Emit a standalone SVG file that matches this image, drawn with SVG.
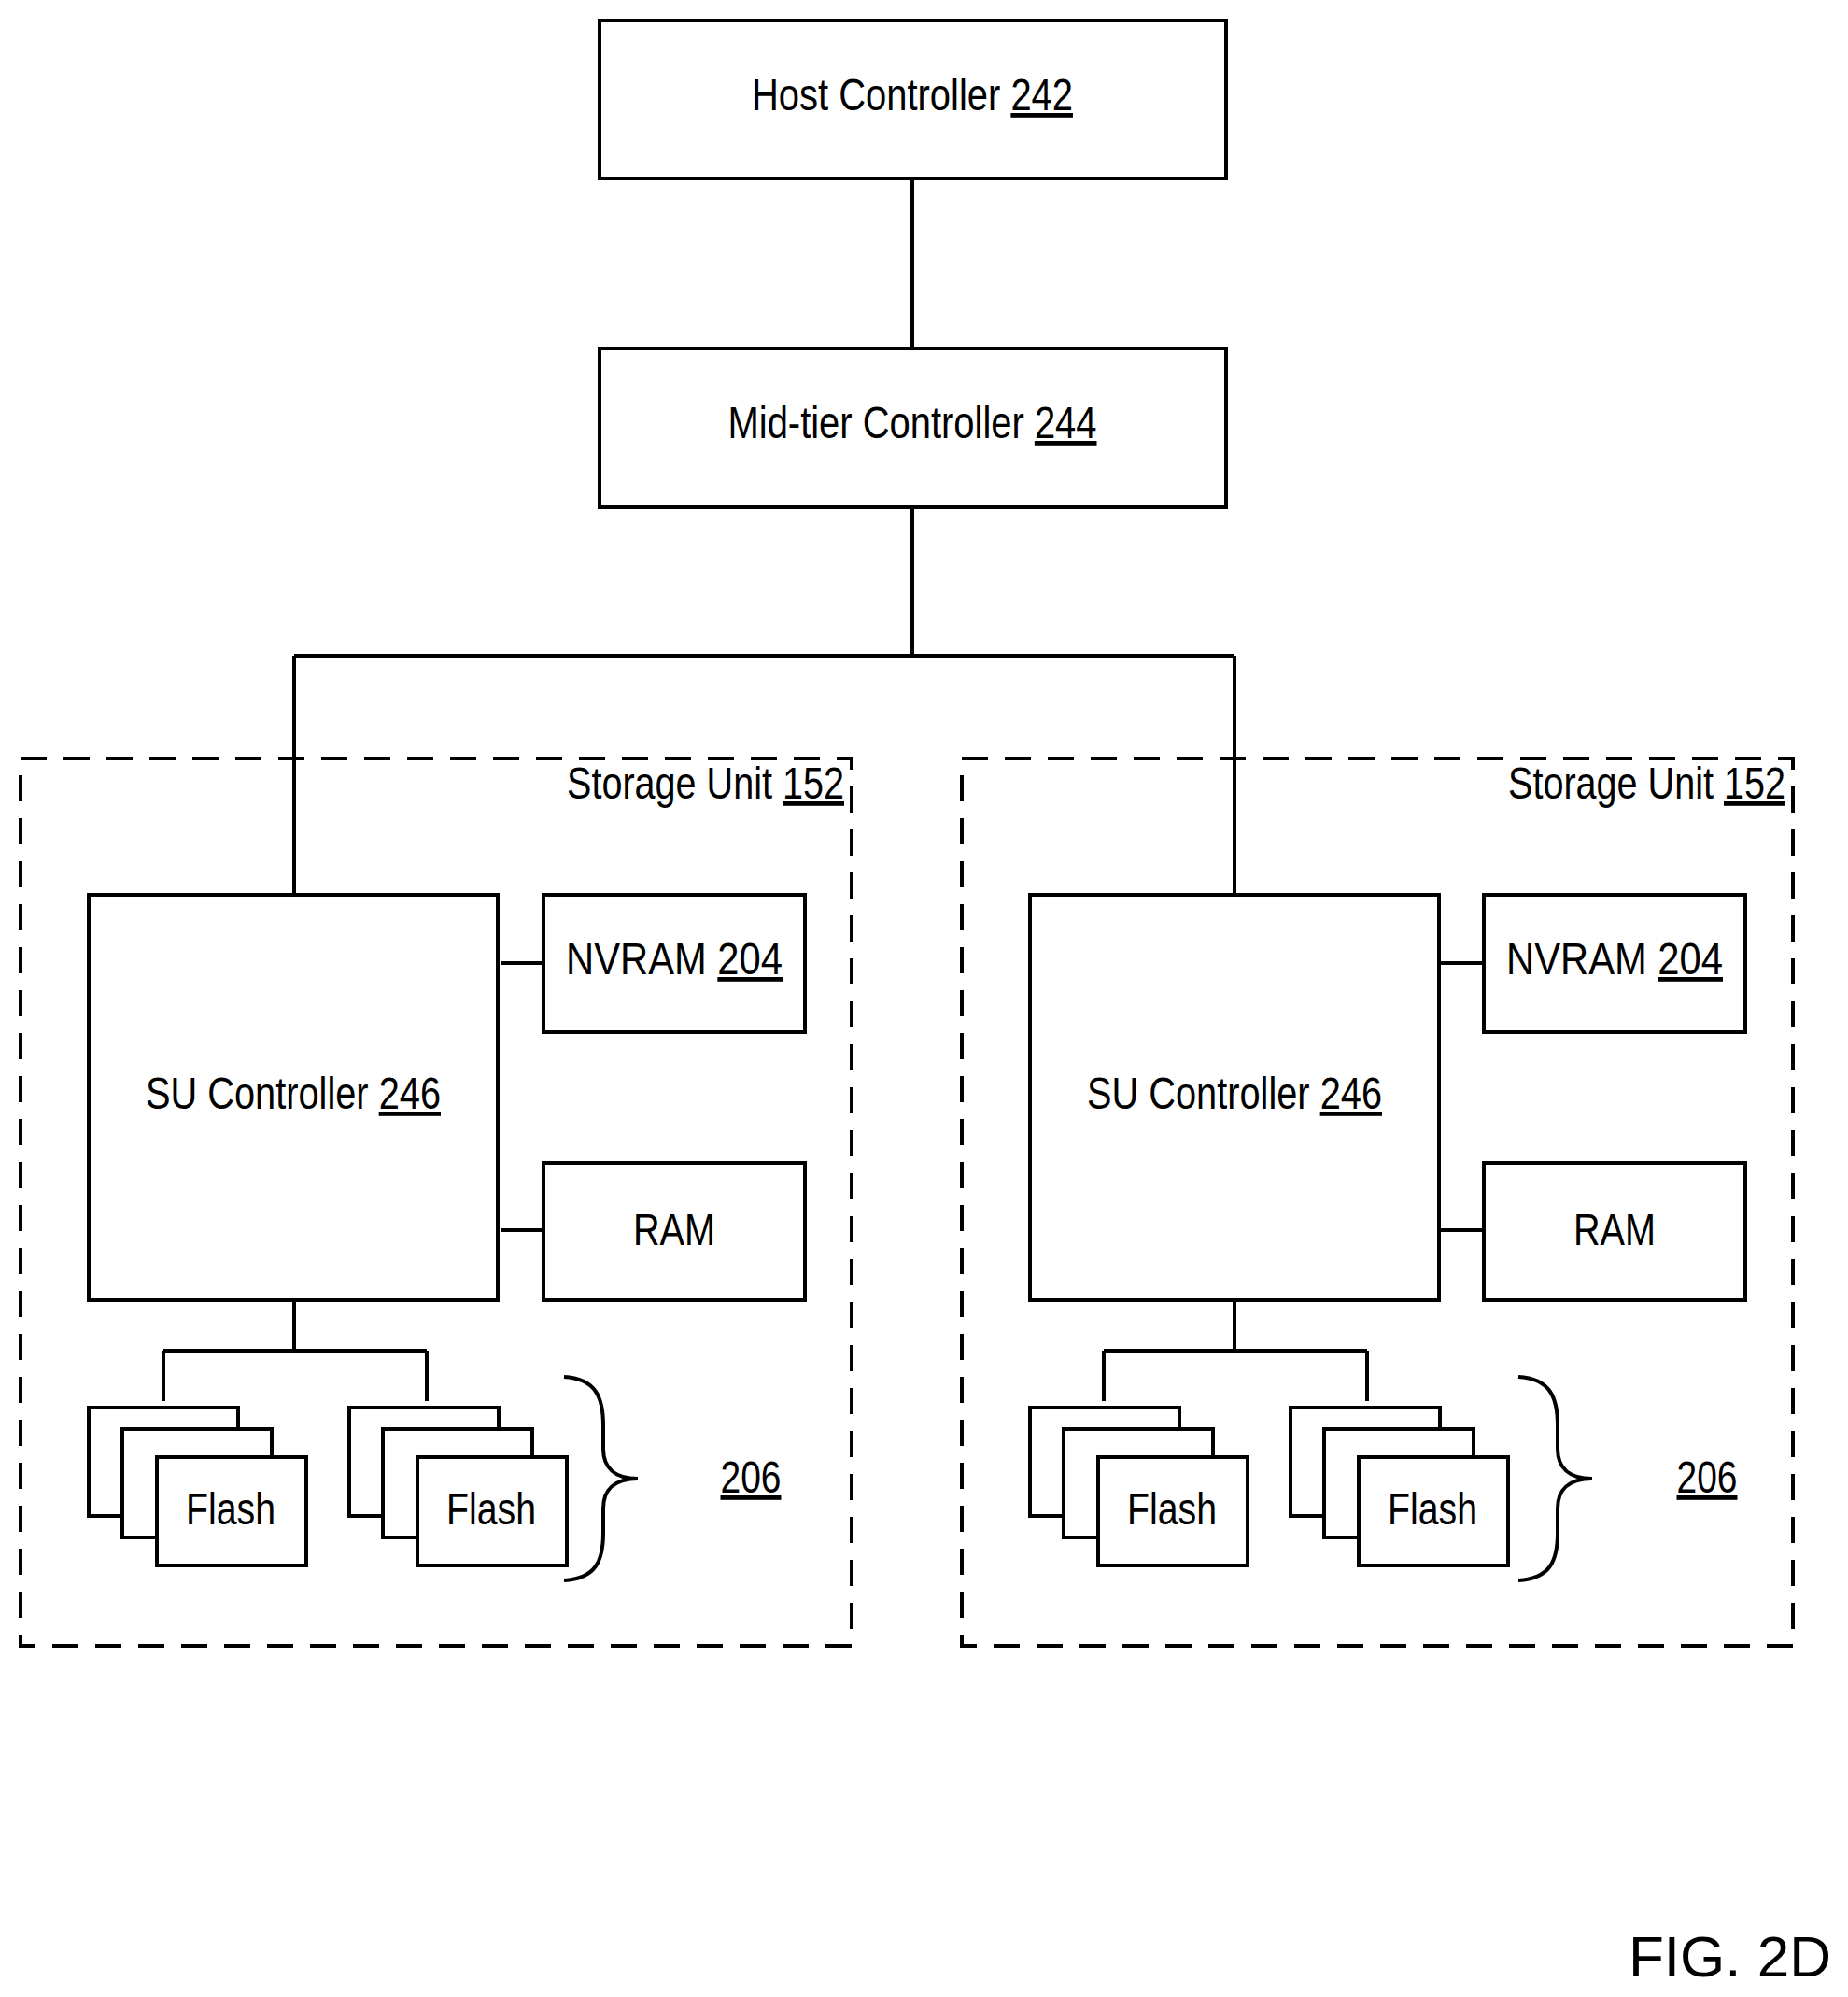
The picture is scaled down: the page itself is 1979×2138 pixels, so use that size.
<svg xmlns="http://www.w3.org/2000/svg" width="1979" height="2138" viewBox="0 0 1979 2138">
<style>
.b{fill:#fff;stroke:#000;stroke-width:4}
.d{fill:none;stroke:#000;stroke-width:4;stroke-dasharray:28,18}
.l{fill:none;stroke:#000;stroke-width:4}
text{font-family:"Liberation Sans",Arial,sans-serif;font-size:48px;fill:#000}
.m{text-anchor:middle}
</style>
<rect width="1979" height="2138" fill="#fff"/>
<g id="connectors">
<path class="l" d="M977 191V373M977 543V702M315 702H1322M315 702V956M1322 702V956"/>
<path class="l" d="M536 1031H582M536 1317H582M315 1392V1446M175 1446H457M175 1446V1500M457 1446V1500"/>
<path class="l" d="M1543 1031H1589M1543 1317H1589M1322 1392V1446M1182 1446H1464M1182 1446V1500M1464 1446V1500"/>
</g>
<g id="host"><rect class="b" x="642" y="22" width="671" height="169"/><text class="m" x="977" y="118" textLength="344" lengthAdjust="spacingAndGlyphs">Host Controller <tspan text-decoration="underline">242</tspan></text></g>
<g id="mid"><rect class="b" x="642" y="373" width="671" height="170"/><text class="m" x="977" y="469" textLength="395" lengthAdjust="spacingAndGlyphs">Mid-tier Controller <tspan text-decoration="underline">244</tspan></text></g>
<g id="unit1">
<rect class="d" x="22" y="812" width="890" height="950"/>
<text x="904" y="855" text-anchor="end" textLength="297" lengthAdjust="spacingAndGlyphs">Storage Unit <tspan text-decoration="underline">152</tspan></text>
<rect class="b" x="95" y="958" width="438" height="434"/><text class="m" x="314" y="1187" textLength="316" lengthAdjust="spacingAndGlyphs">SU Controller <tspan text-decoration="underline">246</tspan></text>
<rect class="b" x="582" y="958" width="280" height="147"/><text class="m" x="722" y="1043" textLength="232" lengthAdjust="spacingAndGlyphs">NVRAM  <tspan text-decoration="underline">204</tspan></text>
<rect class="b" x="582" y="1245" width="280" height="147"/><text class="m" x="722" y="1333" textLength="88" lengthAdjust="spacingAndGlyphs">RAM</text>
<rect class="b" x="95" y="1507" width="160" height="116"/><rect class="b" x="131" y="1530" width="160" height="116"/><rect class="b" x="168" y="1560" width="160" height="116"/><text class="m" x="247" y="1632" textLength="96" lengthAdjust="spacingAndGlyphs">Flash</text>
<rect class="b" x="374" y="1507" width="160" height="116"/><rect class="b" x="410" y="1530" width="160" height="116"/><rect class="b" x="447" y="1560" width="160" height="116"/><text class="m" x="526" y="1632" textLength="96" lengthAdjust="spacingAndGlyphs">Flash</text>
<path class="l" d="M604 1474C638 1476 646 1496 646 1526V1551C646 1571 658 1583 683 1583C658 1583 646 1595 646 1615V1641C646 1671 638 1690 604 1692"/>
<text class="m" x="804" y="1598" textLength="65" lengthAdjust="spacingAndGlyphs"><tspan text-decoration="underline">206</tspan></text>
</g>
<g id="unit2">
<rect class="d" x="1030" y="812" width="890" height="950"/>
<text x="1912" y="855" text-anchor="end" textLength="297" lengthAdjust="spacingAndGlyphs">Storage Unit <tspan text-decoration="underline">152</tspan></text>
<rect class="b" x="1103" y="958" width="438" height="434"/><text class="m" x="1322" y="1187" textLength="316" lengthAdjust="spacingAndGlyphs">SU Controller <tspan text-decoration="underline">246</tspan></text>
<rect class="b" x="1589" y="958" width="280" height="147"/><text class="m" x="1729" y="1043" textLength="232" lengthAdjust="spacingAndGlyphs">NVRAM  <tspan text-decoration="underline">204</tspan></text>
<rect class="b" x="1589" y="1245" width="280" height="147"/><text class="m" x="1729" y="1333" textLength="88" lengthAdjust="spacingAndGlyphs">RAM</text>
<rect class="b" x="1103" y="1507" width="160" height="116"/><rect class="b" x="1139" y="1530" width="160" height="116"/><rect class="b" x="1176" y="1560" width="160" height="116"/><text class="m" x="1255" y="1632" textLength="96" lengthAdjust="spacingAndGlyphs">Flash</text>
<rect class="b" x="1382" y="1507" width="160" height="116"/><rect class="b" x="1418" y="1530" width="160" height="116"/><rect class="b" x="1455" y="1560" width="160" height="116"/><text class="m" x="1534" y="1632" textLength="96" lengthAdjust="spacingAndGlyphs">Flash</text>
<path class="l" d="M1626 1474C1660 1476 1668 1496 1668 1526V1551C1668 1571 1680 1583 1705 1583C1680 1583 1668 1595 1668 1615V1641C1668 1671 1660 1690 1626 1692"/>
<text class="m" x="1828" y="1598" textLength="65" lengthAdjust="spacingAndGlyphs"><tspan text-decoration="underline">206</tspan></text>
</g>
<text x="1961" y="2116" text-anchor="end" style="font-size:62px">FIG. 2D</text>
</svg>
